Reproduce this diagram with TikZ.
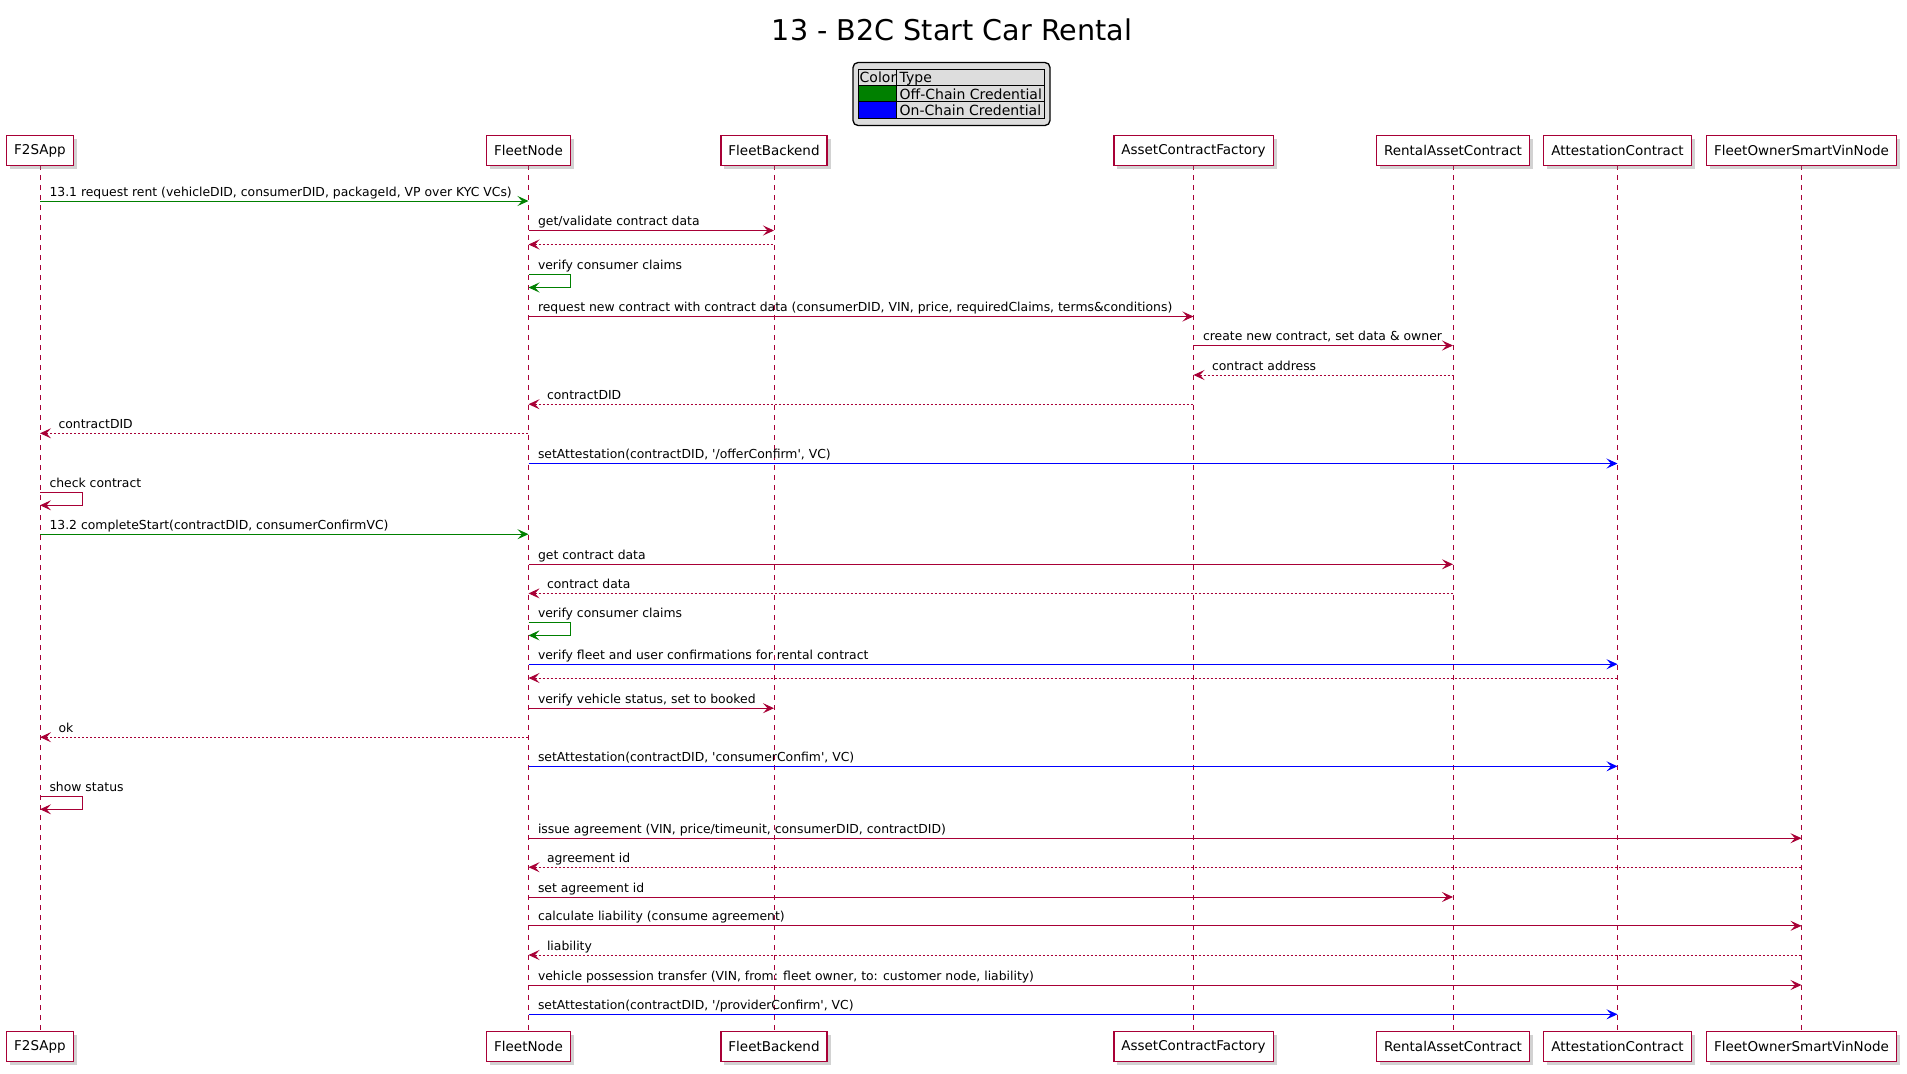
\documentclass[tikz,border=0pt]{standalone}
\usepackage{fontspec}
\setmainfont{DejaVu Sans}
\usetikzlibrary{arrows.meta,shadows}

\begin{document}
\begin{tikzpicture}[x=1pt, y=-1pt,
  actor/.style={draw=umlred, line width=1.3pt, fill=white, minimum height=30pt,
    inner xsep=7.5pt, inner ysep=0pt, font=\fontsize{13.5}{16}\selectfont,
    drop shadow={shadow xshift=3.5pt, shadow yshift=-3.5pt, opacity=0.35}},
  lifeline/.style={umlred, line width=1pt, dash pattern=on 5pt off 5pt},
  call/.style={umlred, line width=1pt, -{Stealth[length=11pt,width=10pt,inset=4.5pt]}},
  ret/.style={umlred, line width=1pt, dash pattern=on 2pt off 2pt,
    {Stealth[length=11pt,width=10pt,inset=4.5pt]}-},
  lbl/.style={anchor=base west, inner sep=0pt, xshift=9pt, yshift=5pt, text=black,
    font=\fontsize{12.4}{14}\selectfont},
  rlbl/.style={lbl, xshift=9pt},
  legtxt/.style={anchor=base west, inner sep=0pt, font=\fontsize{14}{16}\selectfont}]
  \definecolor{umlred}{HTML}{A80036}
  \definecolor{offchain}{HTML}{008000}
  \definecolor{onchain}{HTML}{0000FF}
  \definecolor{legendbg}{HTML}{DDDDDD}
  \fill[white] (0,0) rectangle (1907,1074);
  \useasboundingbox (0,0) rectangle (1907,1074);

  % title and legend
  \node[anchor=base, inner sep=0pt, font=\fontsize{28.6}{34}\selectfont] (title) at (952,40.7) {13 - B2C Start Car Rental};
  \draw[fill=legendbg, line width=1.3pt, rounded corners=5pt] (853,62.5) rectangle (1050,125.5);
  \fill[offchain] (858.5,85) rectangle (896.7,101.7);
  \fill[onchain] (858.5,101.7) rectangle (896.7,118);
  \draw[line width=1pt] (858.5,69) rectangle (1044,118);
  \draw[line width=1pt] (896.7,69) -- (896.7,118) (858.5,85) -- (1044,85) (858.5,101.7) -- (1044,101.7);
  \node[legtxt] (lcolor) at (859.5,82.5) {Color};
  \node[legtxt] (ltype) at (899.5,82.5) {Type};
  \node[legtxt] (loff) at (899.5,99) {Off-Chain Credential};
  \node[legtxt] (lon) at (899.5,115.3) {On-Chain Credential};

  % participants and lifelines
  \foreach \name/\x/\txt in {app/40/F2SApp, fn/528.5/FleetNode, fb/774/FleetBackend,
      acf/1193.5/AssetContractFactory, rac/1453/RentalAssetContract,
      ac/1617.5/AttestationContract, vin/1801.5/FleetOwnerSmartVinNode} {
    \draw[lifeline] (\x,165) -- (\x,1031);
    \node[actor] (\name) at (\x,150.5) {\txt};
    \node[actor] (\name-bot) at (\x,1046.6) {\txt};
  }

  % 13.1 request rent
  \draw[call,offchain] (app|-0,201) -- (fn|-0,201) node[lbl,at start] {13.1 request rent (vehicleDID, consumerDID, packageId, VP over KYC VCs)};
  \draw[call] (fn|-0,230.5) -- (fb|-0,230.5) node[lbl,at start] {get/validate contract data};
  \draw[ret] (fn|-0,244.5) -- (fb|-0,244.5);
  \draw[call,offchain] (fn|-0,274.5) node[lbl] {verify consumer claims} -- ++(42,0) -- ++(0,13) -- (fn|-0,287.5);
  \draw[call] (fn|-0,316.5) -- (acf|-0,316.5) node[lbl,at start] {request new contract with contract data (consumerDID, VIN, price, requiredClaims, terms\&conditions)};
  \draw[call] (acf|-0,345.5) -- (rac|-0,345.5) node[lbl,at start] {create new contract, set data \& owner};
  \draw[ret] (acf|-0,375) -- (rac|-0,375) node[rlbl,at start] {contract address};
  \draw[ret] (fn|-0,404.2) -- (acf|-0,404.2) node[rlbl,at start] {contractDID};
  \draw[ret] (app|-0,433.3) -- (fn|-0,433.3) node[rlbl,at start] {contractDID};
  \draw[call,onchain] (fn|-0,463.5) -- (ac|-0,463.5) node[lbl,at start] {setAttestation(contractDID, \textquotesingle/offerConfirm\textquotesingle, VC)};
  \draw[call] (app|-0,492.3) node[lbl] {check contract} -- ++(42,0) -- ++(0,13) -- (app|-0,505.3);

  % 13.2 complete start
  \draw[call,offchain] (app|-0,534.2) -- (fn|-0,534.2) node[lbl,at start] {13.2 completeStart(contractDID, consumerConfirmVC)};
  \draw[call] (fn|-0,564.3) -- (rac|-0,564.3) node[lbl,at start] {get contract data};
  \draw[ret] (fn|-0,593.4) -- (rac|-0,593.4) node[rlbl,at start] {contract data};
  \draw[call,offchain] (fn|-0,622.4) node[lbl] {verify consumer claims} -- ++(42,0) -- ++(0,13) -- (fn|-0,635.4);
  \draw[call,onchain] (fn|-0,664.2) -- (ac|-0,664.2) node[lbl,at start] {verify fleet and user confirmations for rental contract};
  \draw[ret] (fn|-0,678) -- (ac|-0,678);
  \draw[call] (fn|-0,708.2) -- (fb|-0,708.2) node[lbl,at start] {verify vehicle status, set to booked};
  \draw[ret] (app|-0,737.2) -- (fn|-0,737.2) node[rlbl,at start] {ok};
  \draw[call,onchain] (fn|-0,766.3) -- (ac|-0,766.3) node[lbl,at start] {setAttestation(contractDID, \textquotesingle consumerConfim\textquotesingle, VC)};
  \draw[call] (app|-0,796.6) node[lbl] {show status} -- ++(42,0) -- ++(0,12.7) -- (app|-0,809.3);

  % agreement and handover
  \draw[call] (fn|-0,838.2) -- (vin|-0,838.2) node[lbl,at start] {issue agreement (VIN, price/timeunit, consumerDID, contractDID)};
  \draw[ret] (fn|-0,867.2) -- (vin|-0,867.2) node[rlbl,at start] {agreement id};
  \draw[call] (fn|-0,897) -- (rac|-0,897) node[lbl,at start] {set agreement id};
  \draw[call] (fn|-0,925.8) -- (vin|-0,925.8) node[lbl,at start] {calculate liability (consume agreement)};
  \draw[ret] (fn|-0,955) -- (vin|-0,955) node[rlbl,at start] {liability};
  \draw[call] (fn|-0,985) -- (vin|-0,985) node[lbl,at start] {vehicle possession transfer (VIN, from: fleet owner, to: customer node, liability)};
  \draw[call,onchain] (fn|-0,1014.3) -- (ac|-0,1014.3) node[lbl,at start] {setAttestation(contractDID, \textquotesingle/providerConfirm\textquotesingle, VC)};
\end{tikzpicture}
\end{document}
